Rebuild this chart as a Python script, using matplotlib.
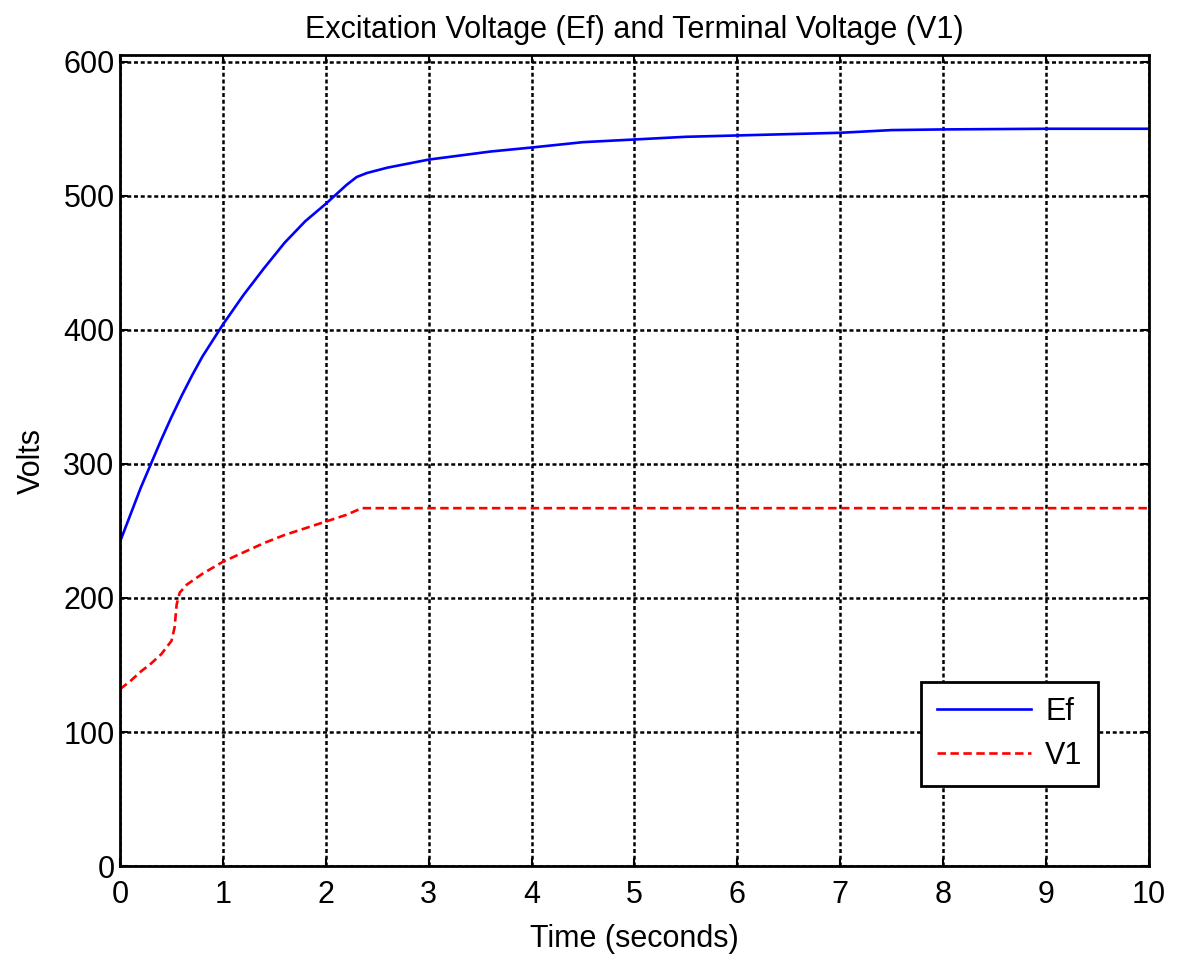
import matplotlib.pyplot as plt

plt.rcParams['font.family'] = ['Liberation Sans', 'DejaVu Sans']

# Excitation voltage response (s, V).
t_ef = [0, 0.05, 0.1, 0.2, 0.3, 0.4, 0.5, 0.6, 0.7, 0.8, 0.9, 1.0, 1.2, 1.4, 1.6,
        1.8, 2.0, 2.1, 2.2, 2.3, 2.4, 2.6, 2.8, 3.0, 3.3, 3.6, 4.0, 4.5, 5.0, 5.5,
        6.0, 6.5, 7.0, 7.5, 8.0, 9.0, 10.0]
ef = [242, 252, 262, 282, 300, 318, 335, 351, 366, 380, 392, 404, 426, 446, 465,
      481, 494, 501, 508, 514, 517, 521, 524, 527, 530, 533, 536, 540, 542, 544,
      545, 546, 547, 549, 549.5, 550, 550]

# Terminal voltage response (s, V).
t_v1 = [0, 0.1, 0.2, 0.3, 0.4, 0.5, 0.53, 0.55, 0.58, 0.65, 0.8, 1.0, 1.2, 1.4,
        1.6, 1.8, 2.0, 2.2, 2.35, 2.5, 10.0]
v1 = [132, 138, 145, 151, 158, 168, 178, 195, 204, 210, 218, 227, 234, 241,
      247, 252, 257, 262, 267, 267, 267]

fig = plt.figure(figsize=(11.77, 9.57), dpi=100)
ax = fig.add_axes([0.102, 0.095, 0.874, 0.8475])

ax.plot(t_ef, ef, color='blue', linewidth=1.9, label='Ef')
ax.plot(t_v1, v1, color='red', linewidth=1.9, dashes=(3.2, 1.7), label='V1')

ax.set_xlim(0, 10)
ax.set_ylim(0, 605)
ax.set_xticks(range(0, 11))
ax.set_yticks(range(0, 601, 100))

ax.grid(True, color='black', linestyle=(0, (1.6, 1.1)), linewidth=1.8)
ax.tick_params(direction='in', length=6, width=1.5, labelsize=22,
               top=True, right=True)
ax.tick_params(axis='x', pad=10)
ax.tick_params(axis='y', pad=4)
for side in ax.spines.values():
    side.set_linewidth(2)

ax.set_title('Excitation Voltage (Ef) and Terminal Voltage (V1)', fontsize=22, pad=12)
ax.set_xlabel('Time (seconds)', fontsize=22, labelpad=10)
ax.set_ylabel('Volts', fontsize=22, labelpad=12)

leg = ax.legend(loc='lower right', bbox_to_anchor=(0.9505, 0.0986), fontsize=22,
                fancybox=False, framealpha=1, edgecolor='black',
                borderaxespad=0, handlelength=3.1, handletextpad=0.45,
                borderpad=0.5, labelspacing=0.45)
leg.get_frame().set_linewidth(2)

fig.savefig('out.png', dpi=100)
plt.close(fig)
